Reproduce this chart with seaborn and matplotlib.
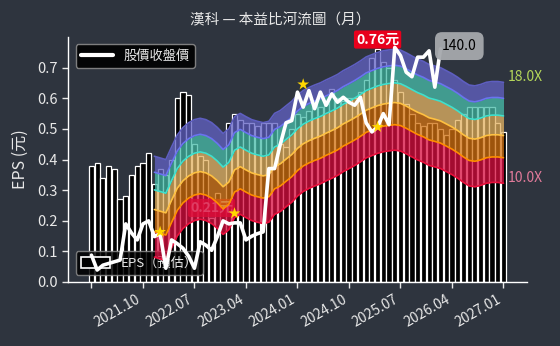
import numpy as np
import pandas as pd
import matplotlib
matplotlib.use("Agg")
import matplotlib.pyplot as plt
from matplotlib.lines import Line2D
from matplotlib.patches import Patch
from matplotlib.ticker import NullLocator, FormatStrFormatter
import seaborn as sns

# ---------------- data ----------------
months = pd.date_range("2021-01-01", "2027-01-01", freq="MS").strftime("%Y.%m").tolist()

eps = [0.38, 0.39, 0.34, 0.38, 0.37, 0.27, 0.28, 0.35, 0.38, 0.39, 0.42,
       0.32, 0.37, 0.35, 0.40, 0.60, 0.62, 0.61, 0.45, 0.41, 0.40,
       0.21, 0.29, 0.26, 0.52, 0.55, 0.53, 0.52, 0.52, 0.51, 0.52,
       0.52, 0.52, 0.45, 0.44, 0.50, 0.55, 0.54, 0.56, 0.58, 0.57,
       0.58, 0.63, 0.60, 0.59, 0.60, 0.60, 0.62, 0.66, 0.73, 0.76,
       0.72, 0.70, 0.66, 0.62, 0.58, 0.55, 0.52, 0.51, 0.52, 0.52,
       0.50, 0.48, 0.50, 0.53, 0.55, 0.57, 0.57, 0.57, 0.57, 0.57, 0.52, 0.49]

price = [42.1, 38.6, 39.7, 40.1, 40.5, 40.9, 50.5, 47.9, 46.0, 50.5, 51.4,
         46.9, 47.7, 39.0, 46.0, 45.0, 43.8, 41.8, 39.0, 45.5, 44.6,
         43.3, 46.9, 51.4, 50.5, 50.8, 50.8, 46.0, 47.0, 47.7, 48.2,
         69.7, 69.7, 80.3, 91.0, 92.2, 108.8, 99.7, 109.8, 98.8, 108.8,
         100.8, 107.7, 102.6, 105.6, 102.6, 100.8, 105.6, 91.0, 86.3, 88.8,
         96.0, 90.0, 141.2, 134.6, 122.2, 119.0, 133.4, 133.4, 138.4, 112.0, 140.0]

river_start = 11
river_eps = [4.16, 4.12, 4.08, 4.39, 4.71, 4.92, 5.06, 5.15, 5.19, 5.15,
             5.06, 4.92, 4.75, 4.88, 5.24, 5.34, 5.24, 5.15, 5.10, 5.06,
             5.10, 5.34, 5.43, 5.58, 5.73, 5.94, 6.10, 6.21, 6.30, 6.38,
             6.49, 6.59, 6.70, 6.85, 6.97, 7.10, 7.25, 7.42, 7.52, 7.62,
             7.69, 7.73, 7.76, 7.72, 7.60, 7.46, 7.33, 7.23, 7.10, 7.04,
             6.97, 6.85, 6.73, 6.59, 6.43, 6.30, 6.27, 6.32, 6.40, 6.43,
             6.43, 6.40]
pe_levels = [10.0, 11.6, 13.2, 14.8, 16.4, 18.0]

star_month = [12, 25, 37, 50]
star_price = [48.2, 53.7, 113.8, 88.8]

tick_pos = [0, 9, 18, 27, 36, 45, 54, 63, 72]
tick_labels = ["", "2021.10", "2022.07", "2023.04", "2024.01",
               "2024.10", "2025.07", "2026.04", "2027.01"]

# ---------------- style ----------------
BG = "#2e343e"
FG = "#e8e8e8"
sns.set_theme(style="dark", rc={"axes.facecolor": BG, "figure.facecolor": BG,
                                "savefig.facecolor": BG})
plt.rcParams["font.family"] = ["Noto Sans CJK TC", "DejaVu Sans"]

fill_colors = ["#d80f40", "#d07010", "#e2b262", "#48bcaa", "#6262c4"]
line_colors = ["#e8103c", "#ff8c00", "#ffc040", "#40e0cc", "#6a74f0", "#5e5ec0"]

fig = plt.figure(figsize=(5.6, 3.46), dpi=100)
ax = fig.add_axes([0.1214, 0.185, 0.8196, 0.708])

df = pd.DataFrame({"month": months, "eps": eps})
sns.barplot(data=df, x="month", y="eps", color="black", edgecolor="white",
            linewidth=0.9, width=0.9, errorbar=None, saturation=1, ax=ax, zorder=1)

# min / max eps labels (on primary axis, under the river)
imax = int(np.argmax(eps))
imin = int(np.argmin(eps))
ax.annotate(f"{eps[imax]:.2f}元", xy=(imax, eps[imax]), xytext=(0, 7),
            textcoords="offset points", ha="center", va="center",
            color="white", fontsize=10, fontweight="bold", zorder=10,
            bbox=dict(boxstyle="round,pad=0.15", fc="#e8001c", ec="none"))
ax.annotate(f"{eps[imin]:.2f}元", xy=(imin, eps[imin]), xytext=(0, 7),
            textcoords="offset points", ha="center", va="center",
            color="white", fontsize=10, fontweight="bold", zorder=10, alpha=0.8,
            bbox=dict(boxstyle="round,pad=0.15", fc="#e8001c", ec="none", alpha=0.8))

ax.set_ylim(0, 0.8)
ax.set_yticks([0.0, 0.1, 0.2, 0.3, 0.4, 0.5, 0.6, 0.7])
ax.yaxis.set_major_formatter(FormatStrFormatter("%.1f"))
ax.set_ylabel("EPS (元)", color=FG, fontsize=11.5, labelpad=6)
ax.set_xlabel("")
for s in ["top", "right"]:
    ax.spines[s].set_visible(False)
for s in ["left", "bottom"]:
    ax.spines[s].set_color("white")
    ax.spines[s].set_linewidth(1.0)
ax.tick_params(axis="y", colors=FG, labelsize=10.5, length=4, width=1, left=True)
ax.tick_params(axis="x", colors=FG, labelsize=10, length=4, width=1, bottom=True)
ax.set_xticks(tick_pos)
ax.set_xticklabels(tick_labels, rotation=30, ha="right")

leg2 = ax.legend(handles=[Patch(facecolor="black", edgecolor="white", linewidth=1.2)],
                 labels=["EPS（預估）"], loc="lower left",
                 bbox_to_anchor=(0.017, 0.029), borderaxespad=0, fontsize=9.5,
                 facecolor="black", edgecolor="#8a8a8a", framealpha=0.85,
                 handlelength=2.2, handleheight=0.9, labelcolor=FG)

# ---------------- price axis (log, hidden) ----------------
ax2 = ax.twinx()
ax2.set_yscale("log")
rx = np.arange(river_start, river_start + len(river_eps))
levels = [np.array(river_eps) * pe for pe in pe_levels]
for j in range(5):
    ax2.fill_between(rx, levels[j], levels[j + 1], color=fill_colors[j],
                     alpha=0.76, lw=0, zorder=2)
for j in range(6):
    sns.lineplot(x=rx, y=levels[j], color=line_colors[j], lw=1.2, ax=ax2, zorder=3)

sns.lineplot(x=np.arange(len(price)), y=price, color="white", lw=2.6, ax=ax2, zorder=5)
sns.scatterplot(x=star_month, y=star_price, marker="*", s=80, color="#ffd700",
                edgecolor="none", ax=ax2, zorder=6)

ax2.annotate(f"{price[-1]:.1f}", xy=(len(price) - 1, price[-1]), xytext=(1, 2),
             textcoords="offset points", ha="left", va="center", color="black",
             fontsize=10, zorder=8,
             bbox=dict(boxstyle="round,pad=0.5", fc="#a6a9ad", ec="none", alpha=0.95))

ax2.annotate(f"{pe_levels[-1]:.1f}X", xy=(rx[-1], levels[-1][-1]), xytext=(3, 4),
             textcoords="offset points", ha="left", va="center",
             color="#b4d65a", fontsize=10)
ax2.annotate(f"{pe_levels[0]:.1f}X", xy=(rx[-1], levels[0][-1]), xytext=(3, 4),
             textcoords="offset points", ha="left", va="center",
             color="#e07a9a", fontsize=10)

ax2.set_ylim(36, 150)
ax2.yaxis.set_major_locator(NullLocator())
ax2.yaxis.set_minor_locator(NullLocator())
ax2.set_ylabel("")
ax2.set_xlabel("")
for s in ax2.spines.values():
    s.set_visible(False)

ax2.legend(handles=[Line2D([0], [0], color="white", lw=3)], labels=["股價收盤價"],
           loc="upper left", bbox_to_anchor=(0.017, 0.971), borderaxespad=0,
           fontsize=9.5, facecolor="black", edgecolor="#8a8a8a", framealpha=0.9,
           handlelength=2.4, labelcolor=FG)

ax.set_xlim(-4.1, 76.1)
ax.set_xlabel("")

fig.text(0.5, 1 - 20 / 346, "漢科 — 本益比河流圖（月）", ha="center", va="center",
         color=FG, fontsize=10.5)

fig.savefig("out.png", dpi=100, facecolor=BG)
